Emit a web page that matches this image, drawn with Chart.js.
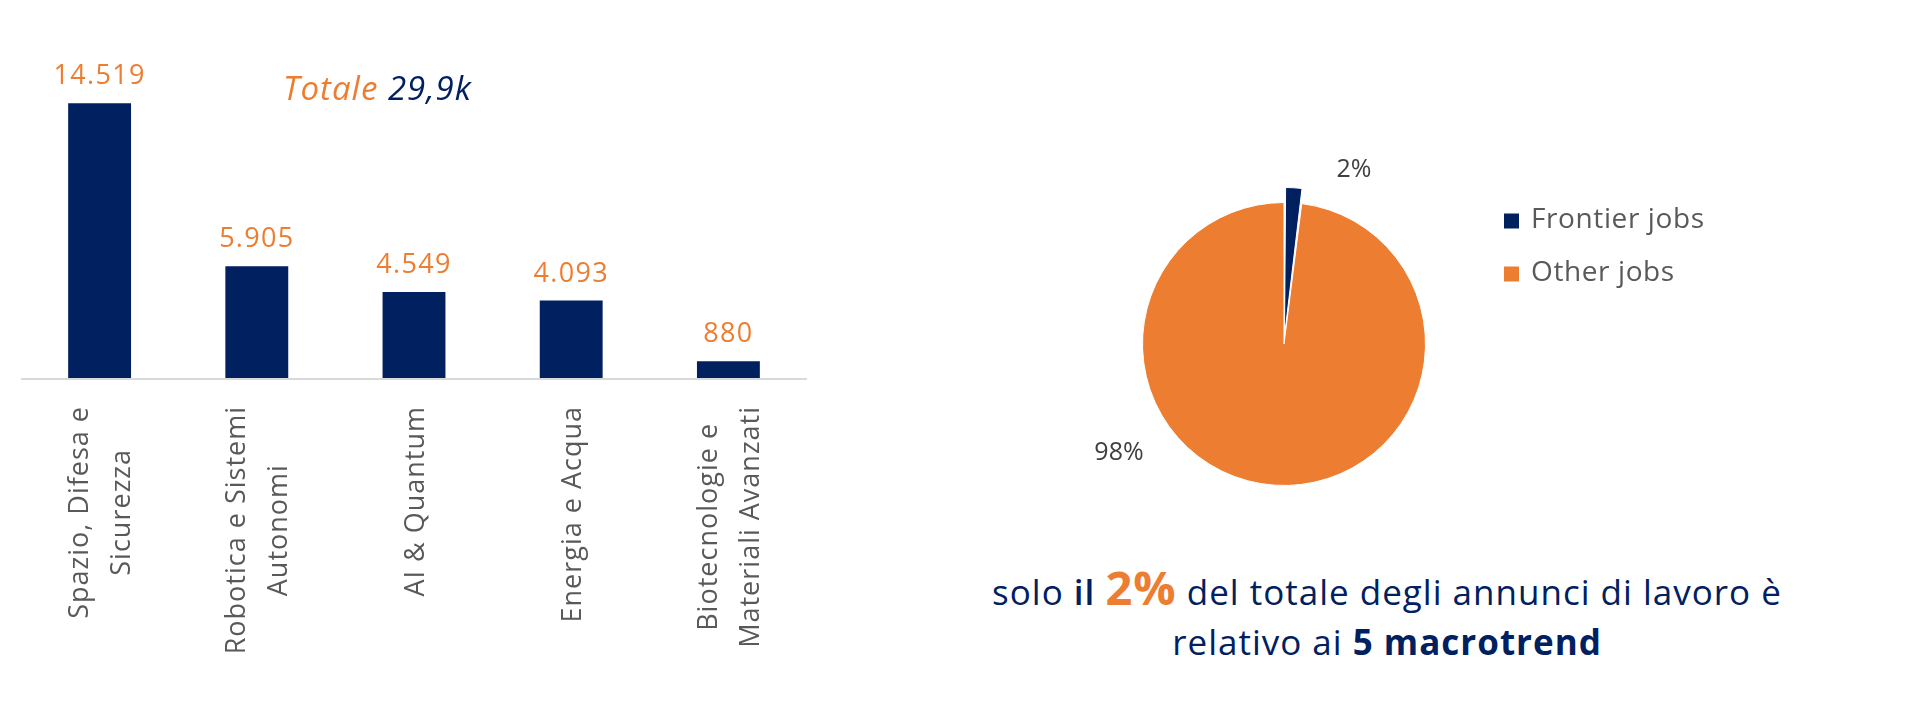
<!DOCTYPE html>
<html lang="it">
<head>
<meta charset="utf-8">
<title>Frontier jobs - annunci di lavoro</title>
<script src="https://cdn.jsdelivr.net/npm/chart.js@4.4.1/dist/chart.umd.min.js"></script>
<style>
    html, body { margin: 0; padding: 0; background: #fff; }
    body { width: 1920px; height: 708px; position: relative; overflow: hidden; font-family: "Open Sans", sans-serif; }
    #boxBarre { position: absolute; left: 0; top: 0; width: 840px; height: 708px; }
    #boxTorta { position: absolute; left: 1084px; top: 144px; width: 700px; height: 400px; }
    #nota { position: absolute; left: 937px; top: 567px; width: 900px; text-align: center;
            color: #002060; font-size: 35px; line-height: 50px; letter-spacing: 1px; }
    #nota .il { font-weight: 600; }
    #nota .perc { color: #ED7D31; font-weight: 700; font-size: 47px; line-height: 40px; }
    #nota b { font-weight: 700; }
</style>
</head>
<body>
<div id="boxBarre"><canvas id="graficoBarre"></canvas></div>
<div id="boxTorta"><canvas id="graficoTorta"></canvas></div>
<div id="nota">solo <span class="il">il</span> <span class="perc">2%</span> del totale degli annunci di lavoro è<br>relativo ai <b>5 macrotrend</b></div>

<script>
// Dati
const categorie = [
    ['Spazio, Difesa e', 'Sicurezza'],
    ['Robotica e Sistemi', 'Autonomi'],
    ['AI & Quantum'],
    ['Energia e Acqua'],
    ['Biotecnologie e', 'Materiali Avanzati']
];
const annunci = [14519, 5905, 4549, 4093, 880];
const totale = ['Totale', '29,9k'];

const quoteEtichette = ['Frontier jobs', 'Other jobs'];
const quoteValori = [2, 98];

// Colori
const BLU = '#002060';
const ARANCIO = '#ED7D31';
const GRIGIO = '#595959';
const FONT = '"Open Sans", sans-serif';

function formattaNumero(n) {
    return String(n).replace(/\B(?=(\d{3})+(?!\d))/g, '.');
}

// Etichette, asse e titolo del grafico a barre
const pluginBarre = {
    id: 'etichetteBarre',
    afterDatasetsDraw(chart) {
        const { ctx, chartArea } = chart;
        const meta = chart.getDatasetMeta(0);
        const scalaX = chart.scales.x;
        ctx.save();

        // linea dell'asse
        ctx.strokeStyle = '#D9D9D9';
        ctx.lineWidth = 2;
        ctx.beginPath();
        ctx.moveTo(chartArea.left, chartArea.bottom + 1);
        ctx.lineTo(chartArea.right, chartArea.bottom + 1);
        ctx.stroke();

        // valori sopra le barre
        ctx.font = `27px ${FONT}`;
        ctx.letterSpacing = '1.3px';
        ctx.fillStyle = ARANCIO;
        ctx.textAlign = 'center';
        ctx.textBaseline = 'alphabetic';
        meta.data.forEach((barra, i) => {
            ctx.fillText(formattaNumero(annunci[i]), barra.x, barra.y - 19);
        });

        // categorie ruotate
        ctx.font = `27px ${FONT}`;
        ctx.letterSpacing = '1px';
        ctx.fillStyle = GRIGIO;
        ctx.textBaseline = 'middle';
        const interlinea = 42;
        categorie.forEach((righe, i) => {
            const x = scalaX.getPixelForValue(i);
            const larghezza = Math.max(...righe.map(r => ctx.measureText(r).width));
            const yCentro = chartArea.bottom + 28 + larghezza / 2;
            righe.forEach((riga, j) => {
                ctx.save();
                ctx.translate(x + (j - (righe.length - 1) / 2) * interlinea + 2, yCentro);
                ctx.rotate(-Math.PI / 2);
                ctx.textAlign = 'center';
                ctx.fillText(riga, 0, 0);
                ctx.restore();
            });
        });

        // Totale
        ctx.font = `italic 33px ${FONT}`;
        ctx.letterSpacing = '1px';
        ctx.textAlign = 'left';
        ctx.textBaseline = 'alphabetic';
        const xT = 283;
        const yT = 100;
        ctx.fillStyle = ARANCIO;
        ctx.fillText(totale[0], xT, yT);
        const w = ctx.measureText(totale[0] + ' ').width;
        ctx.fillStyle = BLU;
        ctx.fillText(totale[1], xT + w, yT);

        ctx.restore();
    }
};

// Percentuali e legenda del grafico a torta
const pluginTorta = {
    id: 'etichetteTorta',
    afterDatasetsDraw(chart) {
        const { ctx } = chart;
        const meta = chart.getDatasetMeta(0);
        const centroX = meta.data[1].x;
        const centroY = meta.data[1].y;
        const spostamenti = [[70, -174], [-165, 109]];
        const somma = quoteValori.reduce((a, b) => a + b, 0);
        ctx.save();

        ctx.font = `25px ${FONT}`;
        ctx.fillStyle = '#404040';
        ctx.textAlign = 'center';
        ctx.textBaseline = 'middle';
        quoteValori.forEach((v, i) => {
            const testo = Math.round(v / somma * 100) + '%';
            ctx.fillText(testo, centroX + spostamenti[i][0], centroY + spostamenti[i][1]);
        });

        // legenda
        const colori = chart.data.datasets[0].backgroundColor;
        ctx.font = `28px ${FONT}`;
        ctx.letterSpacing = '0.6px';
        ctx.textAlign = 'left';
        quoteEtichette.forEach((etichetta, i) => {
            const y = 77 + i * 53;
            ctx.fillStyle = colori[i];
            ctx.fillRect(420, y - 7.5, 15, 15);
            ctx.fillStyle = GRIGIO;
            ctx.fillText(etichetta, 447, y - 1);
        });

        ctx.restore();
    }
};

new Chart(document.getElementById('graficoBarre'), {
    type: 'bar',
    data: {
        labels: categorie,
        datasets: [{
            data: annunci,
            backgroundColor: BLU,
            barPercentage: 0.8,
            categoryPercentage: 0.5
        }]
    },
    options: {
        responsive: true,
        maintainAspectRatio: false,
        animation: false,
        events: [],
        layout: { padding: { left: 21, right: 33, top: 60, bottom: 330 } },
        plugins: { legend: { display: false }, tooltip: { enabled: false } },
        scales: {
            x: { display: false },
            y: { display: false, min: 0, max: 16800 }
        }
    },
    plugins: [pluginBarre]
});

new Chart(document.getElementById('graficoTorta'), {
    type: 'pie',
    data: {
        labels: quoteEtichette,
        datasets: [{
            data: quoteValori,
            backgroundColor: [BLU, ARANCIO],
            borderColor: '#ffffff',
            borderWidth: 1,
            offset: [32, 0],
            radius: 141.5
        }]
    },
    options: {
        responsive: true,
        maintainAspectRatio: false,
        animation: false,
        events: [],
        layout: { padding: { right: 300 } },
        plugins: { legend: { display: false }, tooltip: { enabled: false } }
    },
    plugins: [pluginTorta]
});
</script>
</body>
</html>
